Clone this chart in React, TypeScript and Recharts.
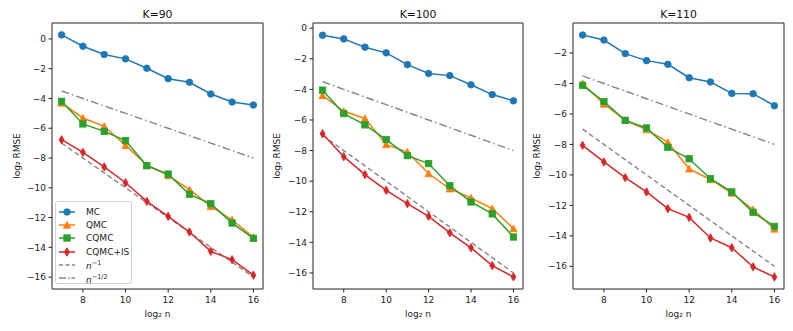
import React from "react";
import { LineChart, Line, XAxis, YAxis, Legend } from "recharts";

// log2 n on the x axis
const logN = [7, 8, 9, 10, 11, 12, 13, 14, 15, 16];

// K=90
const mc90 = [0.27, -0.49, -1.05, -1.34, -1.97, -2.67, -2.91, -3.7, -4.24, -4.44];
const qmc90 = [-4.3, -5.31, -5.87, -7.15, -8.47, -9.17, -10.13, -11.25, -12.15, -13.33];
const cqmc90 = [-4.19, -5.71, -6.21, -6.83, -8.52, -9.08, -10.44, -11.07, -12.37, -13.4];
const cqmcIs90 = [-6.77, -7.62, -8.6, -9.66, -10.91, -11.92, -12.97, -14.27, -14.83, -15.87];

// K=100
const mc100 = [-0.46, -0.7, -1.24, -1.61, -2.38, -2.96, -3.1, -3.7, -4.34, -4.75];
const qmc100 = [-4.4, -5.43, -5.9, -7.6, -8.1, -9.5, -10.5, -11.1, -11.8, -13.1];
const cqmc100 = [-4.05, -5.58, -6.32, -7.28, -8.33, -8.85, -10.3, -11.36, -12.14, -13.65];
const cqmcIs100 = [-6.9, -8.4, -9.57, -10.6, -11.47, -12.3, -13.38, -14.36, -15.52, -16.26];

// K=110
const mc110 = [-0.82, -1.15, -2.04, -2.5, -2.74, -3.62, -3.9, -4.65, -4.67, -5.46];
const qmc110 = [-4.0, -5.35, -6.42, -7.03, -7.86, -9.6, -10.3, -11.19, -12.28, -13.55];
const cqmc110 = [-4.12, -5.19, -6.42, -6.92, -8.19, -8.94, -10.25, -11.12, -12.46, -13.38];
const cqmcIs110 = [-8.06, -9.15, -10.18, -11.12, -12.22, -12.79, -14.14, -14.78, -16.04, -16.7];

// reference rates
const rateOne = [-7, -8, -9, -10, -11, -12, -13, -14, -15, -16];
const rateHalf = [-3.5, -4, -4.5, -5, -5.5, -6, -6.5, -7, -7.5, -8];

const xTicks = [8, 10, 12, 14, 16];
const yTicksFull = [0, -2, -4, -6, -8, -10, -12, -14, -16];
const yTicksLow = [-2, -4, -6, -8, -10, -12, -14, -16];

const BLUE = "#1f77b4";
const ORANGE = "#ff7f0e";
const GREEN = "#2ca02c";
const RED = "#d62728";
const GRAY = "#858585";
const FONT = "DejaVu Sans, sans-serif";

const circleDot = (p: any) => (
  <circle key={`c${p.index}`} cx={p.cx} cy={p.cy} r={3.3} fill={BLUE} stroke={BLUE} strokeWidth={0.8} />
);
const triDot = (p: any) => (
  <polygon
    key={`t${p.index}`}
    points={`${p.cx},${p.cy - 3.6} ${p.cx - 3.6},${p.cy + 3.2} ${p.cx + 3.6},${p.cy + 3.2}`}
    fill={ORANGE}
    stroke={ORANGE}
    strokeWidth={0.8}
  />
);
const squareDot = (p: any) => (
  <rect key={`s${p.index}`} x={p.cx - 3.2} y={p.cy - 3.2} width={6.4} height={6.4} fill={GREEN} stroke={GREEN} strokeWidth={0.8} />
);
const diamondDot = (p: any) => (
  <polygon
    key={`d${p.index}`}
    points={`${p.cx},${p.cy - 4.2} ${p.cx + 2.5},${p.cy} ${p.cx},${p.cy + 4.2} ${p.cx - 2.5},${p.cy}`}
    fill={RED}
    stroke={RED}
    strokeWidth={0.8}
  />
);

function LegendIcon({ kind }: { kind: string }) {
  const c = { mc: BLUE, qmc: ORANGE, cqmc: GREEN, is: RED }[kind] || GRAY;
  const p = { cx: 8, cy: 5, index: 0 };
  return (
    <svg width={16} height={10} style={{ display: "block" }}>
      {kind === "one" && <line x1={0} y1={5} x2={16} y2={5} stroke={GRAY} strokeWidth={1.3} strokeDasharray="4 2.5" />}
      {kind === "half" && <line x1={0} y1={5} x2={16} y2={5} stroke={GRAY} strokeWidth={1.3} strokeDasharray="7 2 1.5 2" />}
      {["mc", "qmc", "cqmc", "is"].includes(kind) && <line x1={0} y1={5} x2={16} y2={5} stroke={c} strokeWidth={1.5} />}
      {kind === "mc" && circleDot(p)}
      {kind === "qmc" && triDot(p)}
      {kind === "cqmc" && squareDot(p)}
      {kind === "is" && diamondDot(p)}
    </svg>
  );
}

function LegendBox() {
  const rows: [string, React.ReactNode][] = [
    ["mc", "MC"],
    ["qmc", "QMC"],
    ["cqmc", "CQMC"],
    ["is", "CQMC+IS"],
    ["one", <span><i>n</i><sup style={{ fontSize: 6.5 }}>−1</sup></span>],
    ["half", <span><i>n</i><sup style={{ fontSize: 6.5 }}>−1/2</sup></span>],
  ];
  return (
    <div
      style={{
        width: 77,
        height: 83,
        boxSizing: "border-box",
        border: "1px solid #d0d0d0",
        borderRadius: 3,
        background: "rgba(255,255,255,0.85)",
        padding: "3px 0 0 3px",
        fontFamily: FONT,
        fontSize: 9,
        color: "#222",
      }}
    >
      {rows.map(([k, label]) => (
        <div key={k} style={{ display: "flex", alignItems: "center", height: 13.3 }}>
          <LegendIcon kind={k} />
          <span style={{ marginLeft: 11, lineHeight: "10px" }}>{label}</span>
        </div>
      ))}
    </div>
  );
}

type PanelProps = {
  title: string;
  mc: number[];
  qmc: number[];
  cqmc: number[];
  cqmcIs: number[];
  yDomain: [number, number];
  yTicks: number[];
  left: number;
  width: number;
  yAxisWidth: number;
  marginRight: number;
  yLabelX: number;
  showLegend?: boolean;
};

function Panel(props: PanelProps) {
  const data = logN.map((n, i) => ({
    n,
    mc: props.mc[i],
    qmc: props.qmc[i],
    cqmc: props.cqmc[i],
    cqmcIs: props.cqmcIs[i],
    rateOne: rateOne[i],
    rateHalf: rateHalf[i],
  }));
  const tickStyle = { fill: "#222", fontSize: 9, fontFamily: FONT };
  const axisStroke = "#222";
  return (
    <div style={{ position: "absolute", left: props.left, top: 0 }}>
      <LineChart
        width={props.width}
        height={331}
        data={data}
        margin={{ top: 22, right: props.marginRight - 1, bottom: 0, left: 0 }}
      >
        <XAxis
          dataKey="n"
          type="number"
          domain={[6.55, 16.45]}
          ticks={xTicks}
          allowDataOverflow
          height={42}
          tick={tickStyle}
          tickSize={3.5}
          tickMargin={4}
          stroke={axisStroke}
          label={{
            content: ({ viewBox }: any) => (
              <text
                x={viewBox.x + viewBox.width / 2}
                y={viewBox.y + 27.5}
                textAnchor="middle"
                fontSize={9}
                fontFamily={FONT}
                fill="#222"
              >
                log₂ n
              </text>
            ),
          }}
        />
        <XAxis
          xAxisId="top"
          orientation="top"
          dataKey="n"
          type="number"
          domain={[6.55, 16.45]}
          height={1}
          tick={false}
          tickLine={false}
          stroke={axisStroke}
          label={{
            content: ({ viewBox }: any) => (
              <text
                x={viewBox.x + viewBox.width / 2}
                y={viewBox.y - 4.5}
                textAnchor="middle"
                fontSize={10.8}
                fontFamily={FONT}
                fill="#111"
              >
                {props.title}
              </text>
            ),
          }}
        />
        <YAxis
          type="number"
          domain={props.yDomain}
          ticks={props.yTicks}
          allowDataOverflow
          width={props.yAxisWidth}
          tick={tickStyle}
          tickSize={3.5}
          tickMargin={2.5}
          stroke={axisStroke}
          tickFormatter={(v: number) => (v < 0 ? `−${Math.abs(v)}` : `${v}`)}
          label={{
            content: ({ viewBox }: any) => {
              const cx = viewBox.x + props.yLabelX;
              const cy = viewBox.y + viewBox.height / 2;
              return (
                <text
                  x={cx}
                  y={cy}
                  transform={`rotate(-90, ${cx}, ${cy})`}
                  textAnchor="middle"
                  dominantBaseline="central"
                  fontSize={9}
                  fontFamily={FONT}
                  fill="#222"
                >
                  log₂ RMSE
                </text>
              );
            },
          }}
        />
        <YAxis
          yAxisId="right"
          orientation="right"
          type="number"
          domain={props.yDomain}
          width={1}
          tick={false}
          tickLine={false}
          stroke={axisStroke}
        />
        <Line dataKey="rateOne" stroke={GRAY} strokeWidth={1.4} strokeDasharray="5 3" dot={false} isAnimationActive={false} />
        <Line dataKey="rateHalf" stroke={GRAY} strokeWidth={1.4} strokeDasharray="8 3 1.5 3" dot={false} isAnimationActive={false} />
        <Line dataKey="mc" stroke={BLUE} strokeWidth={1.5} dot={circleDot} isAnimationActive={false} />
        <Line dataKey="qmc" stroke={ORANGE} strokeWidth={1.5} dot={triDot} isAnimationActive={false} />
        <Line dataKey="cqmc" stroke={GREEN} strokeWidth={1.5} dot={squareDot} isAnimationActive={false} />
        <Line dataKey="cqmcIs" stroke={RED} strokeWidth={1.5} dot={diamondDot} isAnimationActive={false} />
        {props.showLegend && (
          <Legend
            layout="vertical"
            align="center"
            verticalAlign="middle"
            wrapperStyle={{ left: 55, top: 201, width: 77 }}
            content={() => <LegendBox />}
          />
        )}
      </LineChart>
    </div>
  );
}

export default function App() {
  return (
    <div style={{ position: "absolute", left: 0, top: 0, width: 793, height: 331, background: "#fff" }}>
      <Panel
        title="K=90"
        mc={mc90}
        qmc={qmc90}
        cqmc={cqmc90}
        cqmcIs={cqmcIs90}
        yDomain={[-16.8, 1.07]}
        yTicks={yTicksFull}
        left={0}
        width={270}
        yAxisWidth={52}
        marginRight={7}
        yLabelX={16.5}
        showLegend
      />
      <Panel
        title="K=100"
        mc={mc100}
        qmc={qmc100}
        cqmc={cqmc100}
        cqmcIs={cqmcIs100}
        yDomain={[-17.05, 0.34]}
        yTicks={yTicksFull}
        left={265}
        width={265}
        yAxisWidth={48}
        marginRight={7}
        yLabelX={11.7}
      />
      <Panel
        title="K=110"
        mc={mc110}
        qmc={qmc110}
        cqmc={cqmc110}
        cqmcIs={cqmcIs110}
        yDomain={[-17.49, -0.03]}
        yTicks={yTicksLow}
        left={528}
        width={265}
        yAxisWidth={45}
        marginRight={9}
        yLabelX={9}
      />
    </div>
  );
}
